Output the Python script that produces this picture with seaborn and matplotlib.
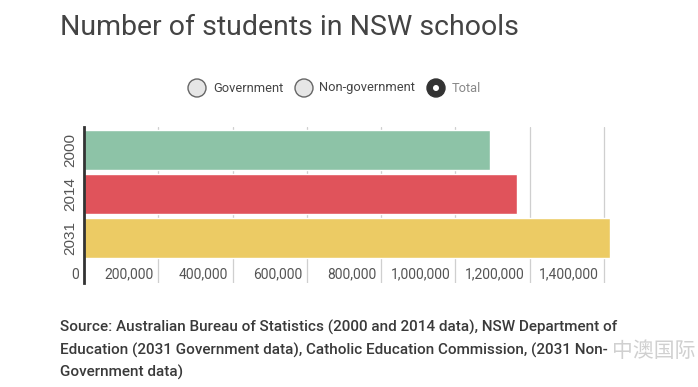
import matplotlib
matplotlib.use("Agg")
import matplotlib.pyplot as plt
import matplotlib.transforms as mtransforms
from matplotlib.patches import Ellipse
import pandas as pd
import seaborn as sns

years = ["2000", "2014", "2031"]
students = [1093000, 1165000, 1416000]
bar_colors = ["#8DC3A7", "#E0535B", "#ECCB64"]
xticks = [0, 200000, 400000, 600000, 800000, 1000000, 1200000, 1400000]
legend_items = ["Government", "Non-government", "Total"]

title = "Number of students in NSW schools"
source_lines = [
    "Source: Australian Bureau of Statistics (2000 and 2014 data), NSW Department of",
    "Education (2031 Government data), Catholic Education Commission, (2031 Non-",
    "Government data)",
]

sns.set_style("white")
plt.rcParams["font.family"] = ["Roboto", "DejaVu Sans"]

df = pd.DataFrame({"year": years, "students": students})

fig = plt.figure(figsize=(6.98, 3.87), dpi=100)
ax = fig.add_axes([84 / 698, 104 / 387, 526 / 698, 156 / 387])

sns.barplot(data=df, x="students", y="year", hue="year", palette=bar_colors,
            orient="h", width=0.91, legend=False, ax=ax, saturation=1)

ax.set_xlim(0, students[-1])
ax.set_ylim(3.02, -0.52)
ax.set_xticks(xticks)
ax.set_xticklabels(["{:,}".format(v) for v in xticks])
ax.set_xlabel("")
ax.set_ylabel("")
ax.grid(axis="x", color="#cfcfcf", linewidth=0.9)
ax.set_axisbelow(True)
for s in ["top", "right", "bottom"]:
    ax.spines[s].set_visible(False)
ax.spines["left"].set_color("#333333")
ax.spines["left"].set_linewidth(2)

ax.tick_params(axis="x", length=0, pad=-11, labelsize=10, labelcolor="#555555")
ax.tick_params(axis="y", length=0, pad=5, labelsize=11, labelcolor="#555555")
shift = mtransforms.ScaledTranslation(-5 / 100, 0, fig.dpi_scale_trans)
for lab in ax.get_xticklabels():
    lab.set_ha("right")
    lab.set_transform(lab.get_transform() + shift)
for lab in ax.get_yticklabels():
    lab.set_rotation(90)
    lab.set_va("center")
    lab.set_family(["Liberation Sans", "DejaVu Sans"])

# title
fig.text(60 / 698, 1 - 35 / 387, title, fontsize=20.5, color="#444444",
         va="baseline", ha="left")

# legend (radio buttons)
ly = 1 - 88 / 387
circle_x = [197, 304, 436]
text_x = [213, 319, 452]


def dot(cx, r, **kw):
    fig.patches.append(Ellipse((cx / 698, ly), 2 * r / 698, 2 * r / 387,
                               transform=fig.transFigure, **kw))


for name, cx, tx in zip(legend_items, circle_x, text_x):
    if name == "Total":
        dot(cx, 9, facecolor="#333333", edgecolor="#333333")
        dot(cx, 3, facecolor="white", edgecolor="none")
        col = "#888888"
    else:
        dot(cx, 9, facecolor="#e6e6e6", edgecolor="#666666", linewidth=1)
        col = "#444444"
    fig.text(tx / 698, ly, name, fontsize=9.3, color=col, va="center", ha="left")

# source
for i, line in enumerate(source_lines):
    fig.text(60 / 698, 1 - (332 + 22.5 * i) / 387, line, fontsize=11,
             color="#3a3a3a", va="baseline", ha="left", fontweight="medium")

fig.text(612 / 698, 1 - 357 / 387, "中澳国际", fontsize=15, color="#d0d0d0",
         family=["Noto Sans CJK SC", "DejaVu Sans"], va="baseline", ha="left")

fig.savefig("out.png", dpi=100, facecolor="white")
